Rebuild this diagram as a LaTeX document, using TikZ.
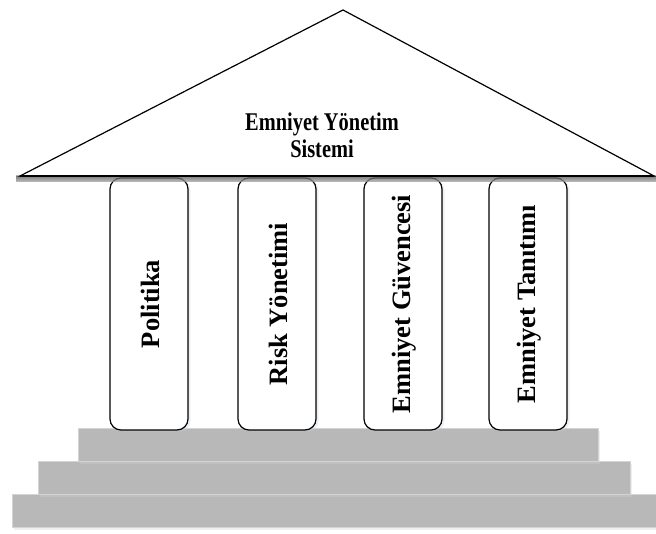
\documentclass[tikz,border=0pt]{standalone}
\usepackage{fontspec}
\setmainfont{Liberation Serif}
\usetikzlibrary{shadows}
\definecolor{stepgray}{HTML}{B8B8B8}
\definecolor{stepedge}{HTML}{D4D4D4}
\definecolor{shade}{HTML}{C9D3DD}
\begin{document}
\begin{tikzpicture}[x=1pt,y=1pt,
  stepbox/.style={fill=stepgray, draw=stepedge, line width=1pt,
    drop shadow={shadow xshift=2pt, shadow yshift=-2pt, opacity=0.35, fill=shade}},
  pillar/.style={draw=black, fill=white, line width=1.2pt, rounded corners=11pt,
    drop shadow={shadow xshift=2.5pt, shadow yshift=-1.5pt, opacity=0.35, fill=shade}},
  pillartext/.style={rotate=90, font=\fontsize{26.5}{28}\selectfont\bfseries},
  rooftext/.style={align=center, font=\fontsize{25.5}{27}\selectfont\bfseries}
]
\useasboundingbox (0,0) rectangle (656,534);

% stepped base
\draw[stepbox] (12,6) rectangle (656,39) coordinate (s3);
\draw[stepbox] (38,39) rectangle (630,72) coordinate (s2);
\draw[stepbox] (78,72) rectangle (598,105) coordinate (s1);

% pillars
\foreach \n/\xl in {p1/110, p2/238, p3/364, p4/489}{
  \draw[pillar] (\xl,104) rectangle ++(78,252) coordinate (\n);
}
\node[pillartext] (t1) at (150,230) {Politika};
\node[pillartext] (t2) at (278,230) {Risk Yönetimi};
\node[pillartext] (t3) at (404,230) {Emniyet Güvencesi};
\node[pillartext] (t4) at (529,230) {Emniyet Tanıtımı};

% roof
\fill[shade, opacity=0.5] (16,352) rectangle (656,358);
\coordinate (apex) at (343,524);
\coordinate (bl) at (20,358);
\coordinate (br) at (654,358);
\draw[fill=white, line width=1.2pt, line join=miter] (bl) -- (apex) -- (br) -- cycle;
\draw[line width=2pt] (bl) -- (br);
\node[rooftext] (roof) at (322,399) {\scalebox{0.8}[1]{Emniyet Yönetim}\\\scalebox{0.8}[1]{Sistemi}};
\end{tikzpicture}
\end{document}
